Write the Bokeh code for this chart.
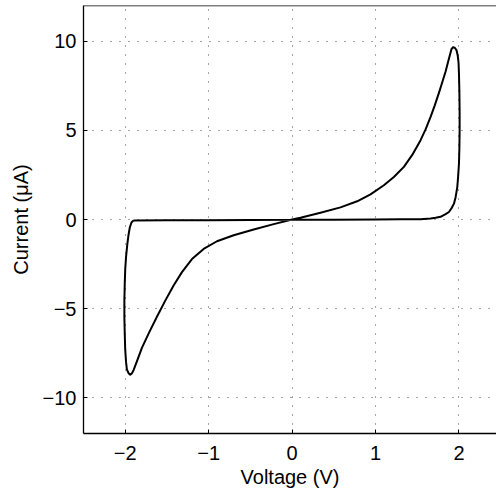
from bokeh.plotting import figure
from bokeh.models import Range1d, FixedTicker, Span
from bokeh.embed import file_html
from bokeh.resources import INLINE

# Cyclic voltammogram (closed loop)
voltage = [-1.90, -1.5, -1.0, -0.5, 0.0, 0.5, 1.0, 1.3, 1.54, 1.66, 1.72, 1.78, 1.84, 1.88,
           1.91, 1.94, 1.96, 1.98, 1.99, 2.0, 2.005, 2.008, 2.008, 2.005, 2.0, 1.995,
           1.985, 1.97, 1.95, 1.93, 1.91, 1.89, 1.87, 1.84, 1.80, 1.76, 1.71, 1.66,
           1.60, 1.54, 1.44, 1.34, 1.22, 1.10, 0.94, 0.78, 0.58, 0.34, 0.10, 0.0,
           -0.22, -0.46, -0.70, -0.90, -1.06, -1.20, -1.32, -1.42, -1.52, -1.62,
           -1.72, -1.80, -1.86, -1.90, -1.92, -1.94, -1.96, -1.98, -1.99, -2.0,
           -2.005, -2.01, -2.01, -2.005, -2.0, -1.99, -1.975, -1.96, -1.945,
           -1.925, -1.90]
current = [-0.05, -0.045, -0.04, -0.03, -0.02, -0.01, 0.0, 0.01, 0.02, 0.06, 0.10, 0.15, 0.30, 0.42,
           0.62, 0.89, 1.25, 1.82, 2.4, 3.12, 4.0, 5.0, 6.0, 7.2, 8.2, 8.8,
           9.2, 9.5, 9.63, 9.66, 9.55, 9.2, 8.85, 8.3, 7.7, 7.1, 6.4, 5.75,
           5.05, 4.45, 3.62, 2.95, 2.38, 1.92, 1.41, 1.02, 0.68, 0.38, 0.10, 0.0,
           -0.26, -0.56, -0.88, -1.22, -1.65, -2.22, -2.95, -3.70, -4.55, -5.45,
           -6.40, -7.20, -7.95, -8.45, -8.63, -8.70, -8.62, -8.40, -8.0, -7.3,
           -6.5, -5.5, -4.5, -3.5, -2.8, -2.1, -1.4, -0.85, -0.45,
           -0.17, -0.05]

x_ticks = [-2, -1, 0, 1, 2]
x_tick_labels = ["\u22122", "\u22121", "0", "1", "2"]
y_ticks = [-10, -5, 0, 5, 10]
y_tick_labels = ["\u221210", "\u22125", "0", "5", "10"]
x_title = "Voltage (V)"
y_title = "Current (\u03bcA)"

FONT = "Liberation Sans"

p = figure(width=496, height=490, output_backend="svg", toolbar_location=None,
           x_range=Range1d(-2.5, 2.45), y_range=Range1d(-12, 12),
           min_border_left=83, min_border_right=0, min_border_top=5, min_border_bottom=57)
p.outline_line_color = None
p.background_fill_color = "white"
p.border_fill_color = "white"

p.line(voltage, current, line_color="black", line_width=2, line_join="round")

for ax in (p.xaxis[0], p.yaxis[0]):
    ax.axis_line_color = "black"
    ax.axis_line_width = 1.3
    ax.major_tick_in = 4
    ax.major_tick_out = 0
    ax.major_tick_line_color = "black"
    ax.minor_tick_line_color = None
    ax.major_label_text_font = FONT
    ax.major_label_text_font_size = "20px"
    ax.major_label_text_color = "black"
    ax.axis_label_text_font = FONT
    ax.axis_label_text_font_size = "20px"
    ax.axis_label_text_font_style = "normal"
    ax.axis_label_text_color = "black"

p.xaxis[0].ticker = FixedTicker(ticks=x_ticks)
p.xaxis[0].major_label_overrides = dict(zip(x_ticks, x_tick_labels))
p.yaxis[0].ticker = FixedTicker(ticks=y_ticks)
p.yaxis[0].major_label_overrides = dict(zip(y_ticks, y_tick_labels))
p.xaxis[0].axis_label = x_title
p.yaxis[0].axis_label = y_title
p.xaxis[0].major_label_standoff = 12
p.xaxis[0].axis_label_standoff = 3
p.yaxis[0].major_label_standoff = 7
p.yaxis[0].axis_label_standoff = 8

p.add_layout(Span(location=12, dimension="width", line_color="black", line_width=1.5))

for g in (p.xgrid[0], p.ygrid[0]):
    g.grid_line_color = "black"
    g.grid_line_alpha = 0.7
    g.grid_line_width = 1
    g.grid_line_dash = "1 8"
p.xgrid[0].ticker = FixedTicker(ticks=x_ticks)
p.ygrid[0].ticker = FixedTicker(ticks=y_ticks)

open("out.html", "w").write(file_html(p, INLINE))
